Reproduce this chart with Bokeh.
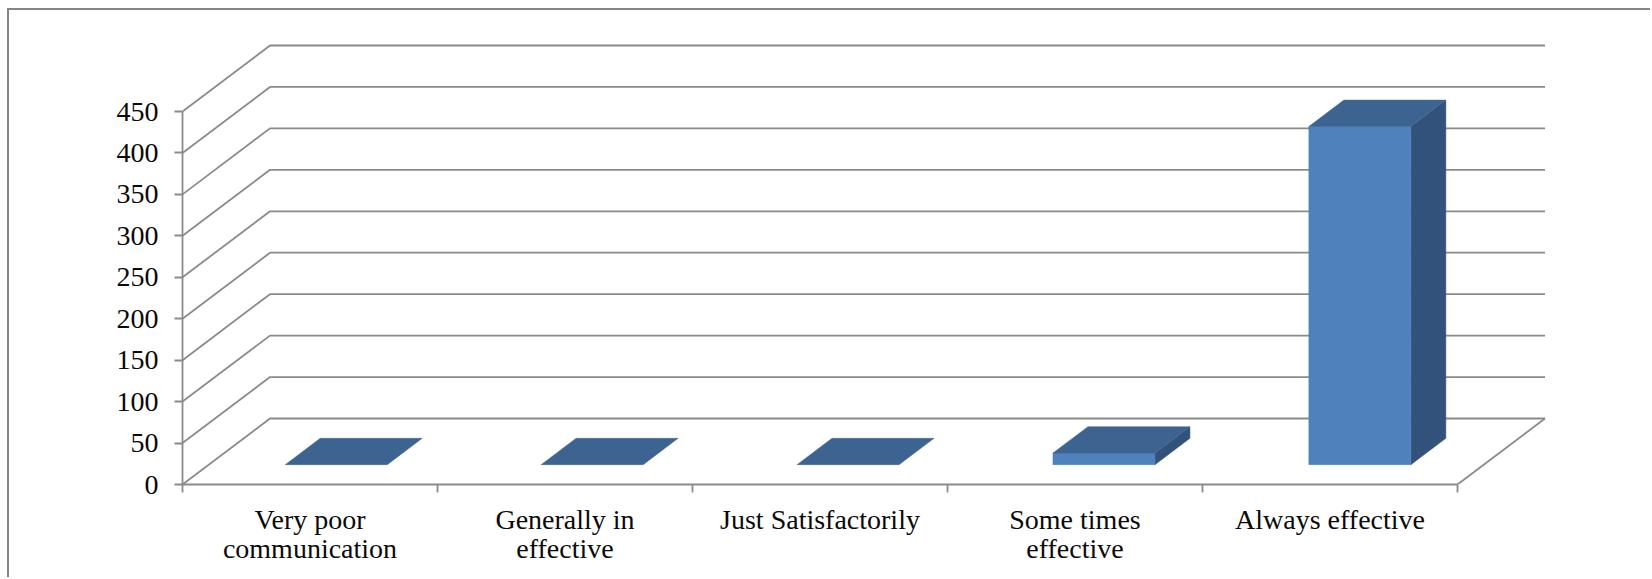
from bokeh.plotting import figure
from bokeh.embed import file_html
from bokeh.resources import INLINE
from bokeh.models import Range1d, FixedTicker

categories = ["Very poor\ncommunication", "Generally in\neffective", "Just Satisfactorily",
              "Some times\neffective", "Always effective"]
values = [0, 0, 0, 14, 408]
y_ticks = [0, 50, 100, 150, 200, 250, 300, 350, 400, 450]

FRONT = "#4F81BD"
TOP = "#3D6491"
SIDE = "#32527C"
GRID = "#8A8A8A"
TEXT = "#0A0A0A"
FONT = "Liberation Serif"

W, H = 1643, 569
LEFT, BOTTOM = 173, 95
PX_PER_CAT = 255.0
PX_PER_UNIT = 373.0 / 450.0
DX = 87.5 / PX_PER_CAT     # depth of the floor, category units
DY = 66.0 / PX_PER_UNIT    # depth of the floor, value units
BAR_W = 0.40
BAR_STEP = 255.9 / 255.0   # bars sit very slightly wider apart than the ticks
D0, D1 = 0.30, 0.70        # bars occupy this fraction of the depth

p = figure(width=W, height=H, output_backend="svg", toolbar_location=None,
           x_range=Range1d(0, (W - LEFT) / PX_PER_CAT),
           y_range=Range1d(0, (H - BOTTOM) / PX_PER_UNIT),
           min_border_left=LEFT, min_border_bottom=BOTTOM,
           min_border_top=0, min_border_right=0, outline_line_color=None,
           background_fill_color="white", border_fill_color="white")
p.grid.visible = False

# outer chart frame: only its left and top edges fall inside the picture
p.styles = {"margin-left": "7px", "margin-top": "8px",
            "border-left": "2px solid #868686", "border-top": "2px solid #868686"}

n = len(categories)

# y axis
ya = p.yaxis[0]
ya.bounds = (0, 450)
ya.ticker = FixedTicker(ticks=y_ticks, minor_ticks=[])
ya.axis_line_color = GRID
ya.axis_line_width = 1.8
ya.major_tick_line_color = GRID
ya.major_tick_line_width = 1.8
ya.major_tick_in = 0
ya.major_tick_out = 8
ya.major_label_standoff = 16
ya.major_label_text_font = FONT
ya.major_label_text_font_size = "28px"
ya.major_label_text_color = TEXT

# x axis: labels at centres, ticks at boundaries
xa = p.xaxis[0]
centres = [i + 0.5 for i in range(n)]
xa.bounds = (0, n)
xa.ticker = FixedTicker(ticks=centres, minor_ticks=list(range(n + 1)))
xa.major_label_overrides = {c: lab for c, lab in zip(centres, categories)}
xa.axis_line_color = GRID
xa.axis_line_width = 1.8
xa.major_tick_line_color = None
xa.major_tick_in = 0
xa.major_tick_out = 8
xa.minor_tick_line_color = GRID
xa.minor_tick_line_width = 1.8
xa.minor_tick_in = 0
xa.minor_tick_out = 8
xa.major_label_standoff = 11
xa.major_label_text_font = FONT
xa.major_label_text_font_size = "28px"
xa.major_label_text_color = TEXT
xa.major_label_text_line_height = 0.95
xa.major_label_orientation = "horizontal"

# walls and floor
xs = [[0, DX, n + DX] for _ in y_ticks]
ys = [[v, v + DY, v + DY] for v in y_ticks]
p.multi_line(xs, ys, line_color=GRID, line_width=1.8)
p.line([n, n + DX], [0, DY], line_color=GRID, line_width=1.8)

# 3-D bars
for i, v in enumerate(values):
    x0 = i * BAR_STEP + 0.5 - BAR_W / 2 + D0 * DX
    x1 = x0 + BAR_W
    ddx = (D1 - D0) * DX
    ddy = (D1 - D0) * DY
    y0 = D0 * DY
    y1 = y0 + v
    if v > 0:
        p.patch([x1, x1 + ddx, x1 + ddx, x1], [y0, y0 + ddy, y1 + ddy, y1],
                fill_color=SIDE, line_color=SIDE, line_width=0.5)
        p.patch([x0, x1, x1, x0], [y0, y0, y1, y1],
                fill_color=FRONT, line_color=FRONT, line_width=0.5)
    p.patch([x0, x1, x1 + ddx, x0 + ddx], [y1, y1, y1 + ddy, y1 + ddy],
            fill_color=TOP, line_color=TOP, line_width=0.5)

open("out.html", "w").write(file_html(p, INLINE))
